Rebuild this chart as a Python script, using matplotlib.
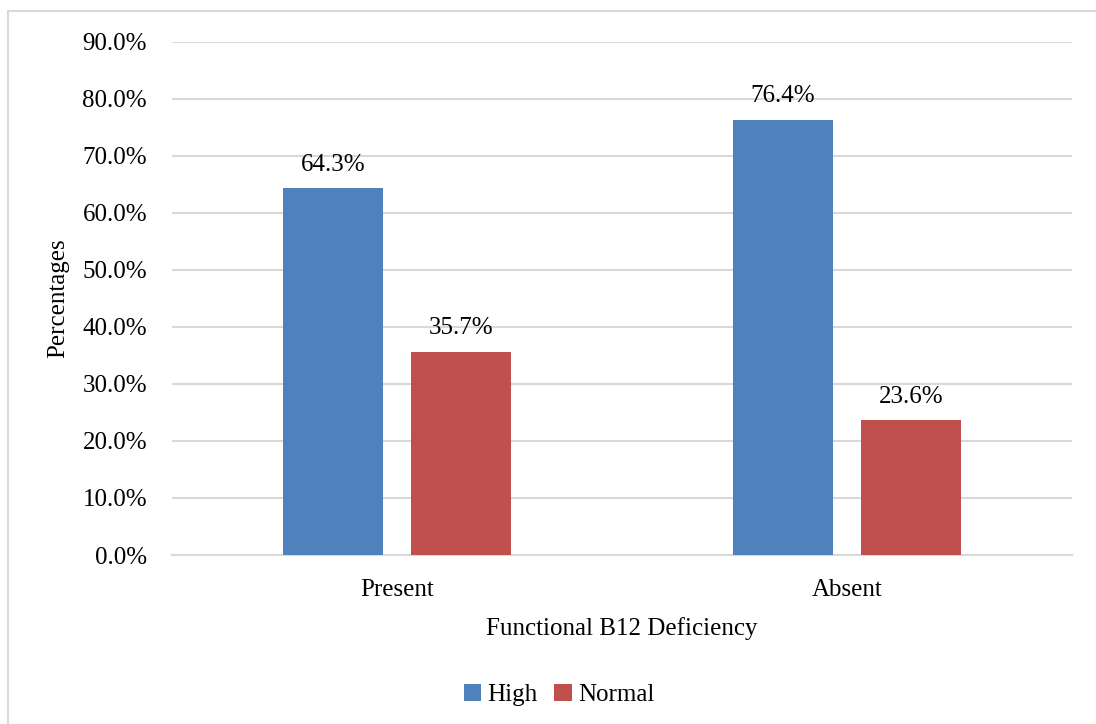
import matplotlib
matplotlib.use("Agg")
import matplotlib.pyplot as plt
from matplotlib.patches import Rectangle
import numpy as np

categories = ["Present", "Absent"]
series_names = ["High", "Normal"]
high_values = [64.3, 76.4]
normal_values = [35.7, 23.6]
y_ticks = [0, 10, 20, 30, 40, 50, 60, 70, 80, 90]

plt.rcParams["font.family"] = ["Liberation Serif", "DejaVu Serif"]
FS = 18

fig = plt.figure(figsize=(10.96, 7.24), dpi=100)
W, H = 1096, 724
ax = fig.add_axes([172 / W, 1 - 555 / H, 900 / W, 513 / H])

# outer frame of the chart area
fig.patches.append(Rectangle((8 / W, -0.05), 1.2, 1 - 11 / H + 0.05,
                             transform=fig.transFigure, fill=False,
                             edgecolor="#d9d9d9", linewidth=1.5, zorder=0))

x = np.arange(len(categories))
width = 100 / 450
offset = 64 / 450
colors = ["#4f81bd", "#c0504d"]

for vals, off, col, name in [(high_values, -offset, colors[0], series_names[0]),
                             (normal_values, offset, colors[1], series_names[1])]:
    bars = ax.bar(x + off, vals, width, color=col, label=name, zorder=3)
    for b, v in zip(bars, vals):
        ax.annotate(f"{v:.1f}%", (b.get_x() + b.get_width() / 2, v),
                    xytext=(0, 17), textcoords="offset points",
                    ha="center", va="center", fontsize=FS, color="black")

ax.set_xlim(-0.5, 1.5)
ax.set_ylim(0, 90)
ax.set_yticks(y_ticks)
ax.set_yticklabels([f"{t:.1f}%" for t in y_ticks], fontsize=FS)
ax.set_xticks(x)
ax.set_xticklabels(categories, fontsize=FS)
ax.tick_params(length=0)
ax.tick_params(axis="y", pad=18)
ax.tick_params(axis="x", pad=17)
ax.yaxis.grid(True, color="#d9d9d9", linewidth=1.5, zorder=0)
ax.set_axisbelow(True)
for s in ["top", "right", "left"]:
    ax.spines[s].set_visible(False)
ax.spines["bottom"].set_color("#d9d9d9")
ax.spines["bottom"].set_linewidth(1.5)

ax.set_ylabel("Percentages", fontsize=FS, va="center")
ax.yaxis.set_label_coords((58 - 172) / 900, 0.5)
ax.set_xlabel("Functional B12 Deficiency", fontsize=FS, va="center")
ax.xaxis.set_label_coords(0.5, -(629 - 555) / 513)

fig.legend(loc="center", bbox_to_anchor=(559 / W, 1 - 695 / H), ncol=2,
           frameon=False, fontsize=FS, handlelength=0.7, handleheight=0.7,
           handletextpad=0.25, columnspacing=0.65)

fig.savefig("out.png", dpi=100)
